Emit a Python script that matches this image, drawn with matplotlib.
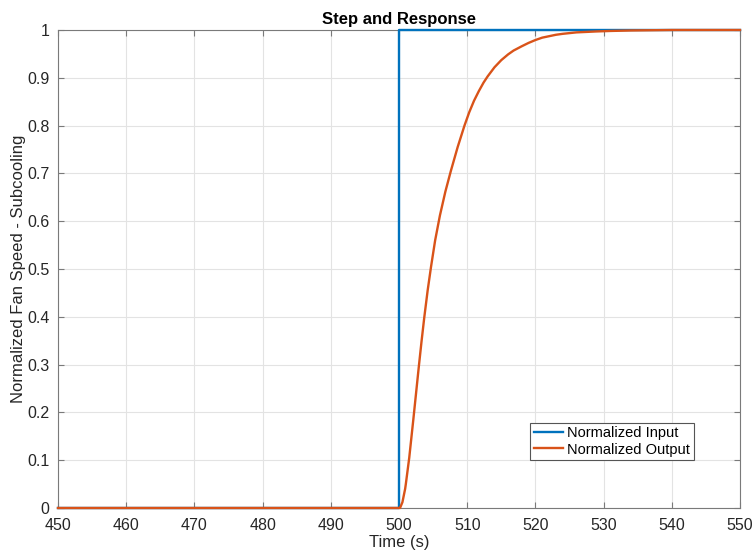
import numpy as np
import matplotlib
matplotlib.use('Agg')
from matplotlib import pyplot as plt

plt.rcParams['font.family'] = ['Liberation Sans', 'DejaVu Sans']

# step input
t_in = [450, 500, 500, 550]
y_in = [0, 0, 1, 1]

# response
t_out = [450, 500, 500.15, 500.5, 500.9, 501.0, 501.5, 502.1, 502.5, 502.9, 503.3,
         503.7, 504.2, 504.7, 505.3, 506.0, 506.8, 507.6, 508.6, 509.6, 510.3,
         511.0, 511.7, 512.4, 513.0, 514.0, 515.0, 516.0, 516.8, 518.0, 519.0,
         520.0, 521.0, 522.0, 523.0, 524.0, 525.0, 526.0, 527.5, 529.0, 531.0,
         534.0, 540.0, 550.0]
y_out = [0, 0, 0, 0.012, 0.04, 0.05, 0.105, 0.185, 0.24, 0.295, 0.348,
         0.398, 0.455, 0.505, 0.56, 0.612, 0.662, 0.705, 0.755, 0.80, 0.828,
         0.852, 0.872, 0.89, 0.903, 0.922, 0.937, 0.949, 0.957, 0.966, 0.973,
         0.979, 0.984, 0.987, 0.990, 0.992, 0.9935, 0.995, 0.996, 0.997, 0.998,
         0.999, 1.0, 1.0]

xticks = np.arange(450, 551, 10)
yticks = np.round(np.arange(0, 1.01, 0.1), 1)
ylabels = ['0'] + [f'{v:g}' for v in yticks[1:-1]] + ['1']

fig = plt.figure(figsize=(7.54, 5.54), dpi=100)
ax = fig.add_axes([58/754, 1 - 508/554, 682/754, 478/554])

ax.plot(t_in, y_in, color='#0072BD', lw=1.7, label='Normalized Input',
        clip_on=False, zorder=5)
ax.plot(t_out, y_out, color='#D95319', lw=1.7, label='Normalized Output',
        clip_on=False, zorder=6)

ax.set_xlim(450, 550)
ax.set_ylim(0, 1)
ax.set_xticks(xticks)
ax.set_yticks(yticks)
ax.set_yticklabels(ylabels)
ax.grid(True, color='#e3e3e3', lw=0.8)
ax.set_axisbelow(True)

for s in ax.spines.values():
    s.set_color('#7a7a7a')
    s.set_linewidth(0.8)
ax.tick_params(direction='in', top=True, right=True, length=4, color='#7a7a7a',
               labelsize=11.5, labelcolor='#262626')
ax.tick_params(axis='x', pad=7)
ax.tick_params(axis='y', pad=6)

ax.set_xlabel('Time (s)', fontsize=12, color='#262626', labelpad=2)
ax.set_ylabel('Normalized Fan Speed - Subcooling', fontsize=12, color='#262626')
ax.yaxis.set_label_coords(-0.047, 0.5)
ax.set_title('Step and Response', fontsize=12, fontweight='bold', pad=4)

leg = ax.legend(loc='lower left', bbox_to_anchor=(0.692, 0.1), fontsize=10.5,
                fancybox=False, edgecolor='#555555', framealpha=1,
                handlelength=2.0, handletextpad=0.3, borderpad=0.25, labelspacing=0.15,
                borderaxespad=0)
leg.get_frame().set_linewidth(0.8)
leg.set_zorder(10)

fig.savefig('out.png', dpi=100)
